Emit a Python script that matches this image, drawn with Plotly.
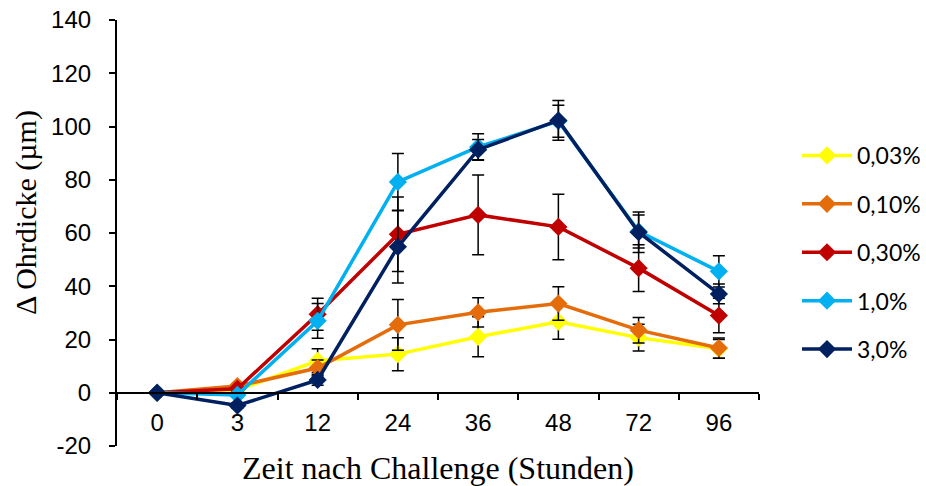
import plotly.graph_objects as go

# Data
categories = ["0", "3", "12", "24", "36", "48", "72", "96"]

series_names = ["0,03%", "0,10%", "0,30%", "1,0%", "3,0%"]
series_colors = ["#FFFF00", "#E46C0A", "#C00000", "#00B0F0", "#002060"]

val_003 = [0, 1.0, 12.0, 14.5, 21.0, 26.7, 20.7, 16.5]
err_003 = [0, 0.5, 4.5, 6.2, 7.5, 6.6, 5.0, 3.5]

val_010 = [0, 2.5, 9.3, 25.5, 30.2, 33.5, 23.5, 16.8]
err_010 = [0, 0.8, 3.0, 9.5, 5.5, 6.3, 4.8, 3.8]

val_030 = [0, 1.5, 29.5, 59.5, 66.8, 62.3, 46.8, 29.0]
err_030 = [0, 0.8, 6.0, 14.0, 15.0, 12.3, 8.8, 6.5]

val_10 = [0, -0.8, 27.0, 79.2, 92.3, 102.0, 60.6, 45.6]
err_10 = [0, 0.8, 6.5, 10.7, 5.0, 6.0, 6.2, 5.9]

val_30 = [0, -4.8, 4.8, 54.8, 91.3, 102.3, 60.3, 37.1]
err_30 = [0, 1.0, 2.0, 13.6, 3.8, 7.5, 7.6, 3.7]

all_vals = [val_003, val_010, val_030, val_10, val_30]
all_errs = [err_003, err_010, err_030, err_10, err_30]

y_ticks = [-20, 0, 20, 40, 60, 80, 100, 120, 140]
y_ticktext = ["-20", "0", "20", "40", "60", "80", "100", "120", "140"]

x_title = "Zeit nach Challenge (Stunden)"
y_title = "Δ Ohrdicke (µm)"

fig = go.Figure()
for name, color, vals, errs in zip(series_names, series_colors, all_vals, all_errs):
    fig.add_trace(go.Scatter(
        x=categories, y=vals, name=name, mode="lines+markers",
        legendgroup=name,
        line=dict(color=color, width=3.5),
        marker=dict(symbol="diamond", size=14, color=color, line=dict(width=0)),
        error_y=dict(type="data", array=errs, visible=True, color="black",
                     thickness=1.5, width=6),
    ))

tick_font = dict(family="Liberation Sans, Arial, sans-serif", size=24, color="black")
serif = "Liberation Serif, Times New Roman, serif"

fig.update_layout(
    width=926, height=486,
    margin=dict(l=117, r=167, t=20, b=40),
    plot_bgcolor="white", paper_bgcolor="white",
    showlegend=True,
    legend=dict(
        xref="container", yref="container",
        x=0.8607, xanchor="left", y=0.7243, yanchor="top",
        font=dict(family="Lato, Carlito, sans-serif", size=23, color="black"),
        itemwidth=50, tracegroupgap=15.5, traceorder="grouped",
        bgcolor="rgba(0,0,0,0)",
    ),
    xaxis=dict(
        type="category", range=[-0.5, 7.5],
        anchor="free", position=0.125, automargin=False,
        showline=True, linecolor="black", linewidth=1.5,
        ticks="outside", ticklen=6, tickwidth=1.5, tickcolor="black",
        tickson="boundaries", ticklabelstandoff=9,
        showgrid=False, zeroline=False,
        tickfont=tick_font,
    ),
    yaxis=dict(
        range=[-20, 140], domain=[0, 1], automargin=False,
        tickvals=y_ticks, ticktext=[t + "\u00a0\u00a0" for t in y_ticktext],
        showline=True, linecolor="black", linewidth=1.5,
        ticks="outside", ticklen=6, tickwidth=1.5, tickcolor="black",
        showgrid=False, zeroline=False,
        tickfont=tick_font,
    ),
    annotations=[
        dict(text=x_title, xref="paper", yref="paper", x=0.5, y=-0.052,
             xanchor="center", yanchor="middle", showarrow=False,
             font=dict(family=serif, size=32, color="black")),
        dict(text=y_title, xref="paper", yref="paper", x=-0.142, y=0.549,
             xanchor="center", yanchor="middle", showarrow=False, textangle=-90,
             font=dict(family=serif, size=30, color="black")),
    ],
)

fig.write_html(
    "out.html",
    config={"responsive": False, "displayModeBar": False},
    post_script="document.body.style.margin='0';document.body.style.overflow='hidden';",
)
